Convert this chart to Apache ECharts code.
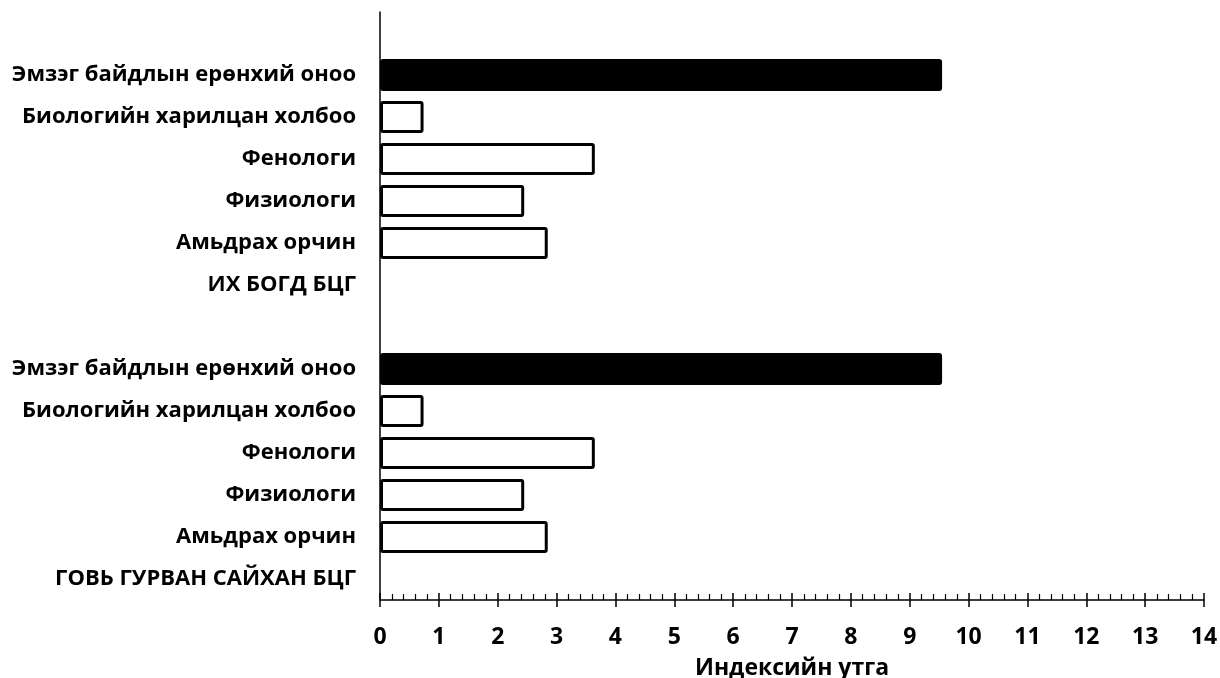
<!DOCTYPE html>
<html>
<head>
<meta charset="utf-8">
<script src="https://cdn.jsdelivr.net/npm/echarts@6/dist/echarts.min.js"></script>
<style>html,body{margin:0;padding:0;background:#fff}#c{width:1220px;height:678px}</style>
</head>
<body>
<div id="c"></div>
<script>
// categories from bottom to top
var categories = [
  'ГОВЬ ГУРВАН САЙХАН БЦГ',
  'Амьдрах орчин',
  'Физиологи',
  'Фенологи',
  'Биологийн харилцан холбоо',
  'Эмзэг байдлын ерөнхий оноо',
  '',
  'ИХ БОГД БЦГ',
  'Амьдрах орчин',
  'Физиологи',
  'Фенологи',
  'Биологийн харилцан холбоо',
  'Эмзэг байдлын ерөнхий оноо',
  ''
];
// values (null = no bar)
var values = [null, 2.85, 2.45, 3.65, 0.74, 9.55, null, null, 2.85, 2.45, 3.65, 0.74, 9.55, null];
// which bars are the overall score (filled black)
var isTotal = [false, false, false, false, false, true, false, false, false, false, false, false, true, false];
var xTicks = [0,1,2,3,4,5,6,7,8,9,10,11,12,13,14];

var font = '"Open Sans", sans-serif';
var chart = echarts.init(document.getElementById('c'));
var barData = values.map(function (v, i) {
  return {
    value: v,
    itemStyle: isTotal[i] ? {color: '#000', borderColor: '#000'} : {color: '#fff', borderColor: '#000'}
  };
});
chart.setOption({
  animation: false,
  grid: {left: 380, right: 16, top: 12, bottom: 78, containLabel: false, outerBoundsMode: 'none'},
  xAxis: [{
    type: 'value', min: xTicks[0], max: xTicks[xTicks.length - 1], interval: 1,
    position: 'bottom',
    name: 'Индексийн утга', nameLocation: 'middle', nameGap: 57,
    nameTextStyle: {fontFamily: font, fontWeight: 'bold', fontSize: 23, color: '#000'},
    axisLine: {show: true, lineStyle: {color: '#000', width: 1.5}},
    axisTick: {show: true, inside: false, length: 7, lineStyle: {color: '#000', width: 1.5}},
    axisLabel: {fontFamily: font, fontWeight: 'bold', fontSize: 23, color: '#000', margin: 26},
    splitLine: {show: false}
  }, {
    type: 'value', min: xTicks[0], max: xTicks[xTicks.length - 1], interval: 1,
    position: 'bottom', offset: 0,
    axisLine: {show: false},
    axisTick: {show: true, inside: true, length: 7, lineStyle: {color: '#000', width: 1.5}},
    minorTick: {show: true, splitNumber: 5, length: 6, lineStyle: {color: '#000', width: 1.2}},
    axisLabel: {show: false},
    splitLine: {show: false}
  }],
  yAxis: {
    type: 'category', data: categories,
    axisLine: {show: true, lineStyle: {color: '#000', width: 1.5}},
    axisTick: {show: false},
    axisLabel: {fontFamily: font, fontWeight: 'bold', fontSize: 22, color: '#000', margin: 24},
    splitLine: {show: false}
  },
  series: [{
    type: 'bar', xAxisIndex: 0, data: barData, barWidth: 32,
    itemStyle: {borderWidth: 3, borderRadius: 1.5},
    silent: true
  }]
});
</script>
</body>
</html>
